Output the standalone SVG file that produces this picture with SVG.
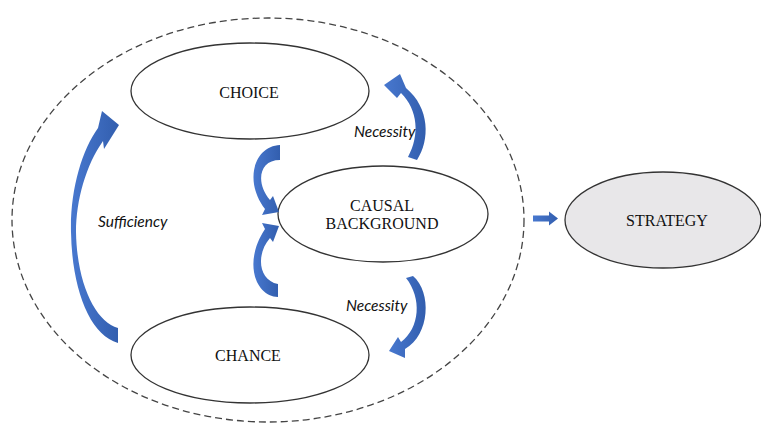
<svg xmlns="http://www.w3.org/2000/svg" width="761" height="425" viewBox="0 0 761 425">
<defs>
<style>
.node{fill:#fff;stroke:#333;stroke-width:1.3}
.lbl{font-family:"Liberation Serif","Times New Roman",serif;font-size:16px;fill:#111;text-anchor:middle}
.rel{font-family:Lato,"Liberation Sans",sans-serif;font-style:italic;font-size:15.5px;fill:#111}
.arr{fill:url(#blue)}
</style>
<linearGradient id="blue" x1="0" y1="0" x2="1" y2="0">
<stop offset="0" stop-color="#4878cf"/>
<stop offset="1" stop-color="#325eae"/>
</linearGradient>
</defs>
<rect width="761" height="425" fill="#fff"/>
<ellipse id="boundary" cx="268" cy="220" rx="256" ry="202" fill="none" stroke="#444" stroke-width="1.3" stroke-dasharray="7 4"/>
<g id="choice">
<ellipse class="node" cx="250" cy="91" rx="119" ry="48"/>
<text class="lbl" x="249" y="97.5">CHOICE</text>
</g>
<g id="causal">
<ellipse class="node" cx="383" cy="214" rx="105" ry="48"/>
<text class="lbl" x="382" y="210.5">CAUSAL</text>
<text class="lbl" x="382" y="228.5">BACKGROUND</text>
</g>
<g id="chance">
<ellipse class="node" cx="250" cy="355" rx="119" ry="48"/>
<text class="lbl" x="248" y="361">CHANCE</text>
</g>
<g id="strategy">
<ellipse class="node" cx="663" cy="220" rx="98" ry="48" style="fill:#e8e7e9"/>
<text class="lbl" x="667" y="226">STRATEGY</text>
</g>
<g id="connectors">
<path class="arr" d="M118,328 C96,322 77,285 76,232 C76,200 86,165 103,141 L104,149 L119,125 L102,111 L98,128 C82,150 70,190 71,232 C72,290 90,335 118,343 Z"/>
<path class="arr" d="M417,160 C430,140 430,108 406,88 L400,74 L384,85 L397,98 L401,93 C418,110 420,135 408,157 Z"/>
<path class="arr" d="M413,276 C432,292 430,335 405,349 L405,358 L389,351 L398,337 L401,342 C420,328 422,298 406,278 Z"/>
<path class="arr" d="M280,145 C255,146 243,180 265,209 L262,215 L279,212 L273,196 L270,200 C256,184 258,160 280,160 Z"/>
<path class="arr" d="M278,297 C255,296 243,262 265,229 L262,223 L279,226 L273,242 L270,238 C256,254 258,280 278,284 Z"/>
<path class="arr" d="M533,215.5 L549,215.5 L549,211.5 L558,218.5 L549,225.5 L549,221.5 L533,221.5 Z"/>
<text class="rel" x="98" y="227">Sufficiency</text>
<text class="rel" x="354" y="137">Necessity</text>
<text class="rel" x="346" y="311">Necessity</text>
</g>
</svg>
